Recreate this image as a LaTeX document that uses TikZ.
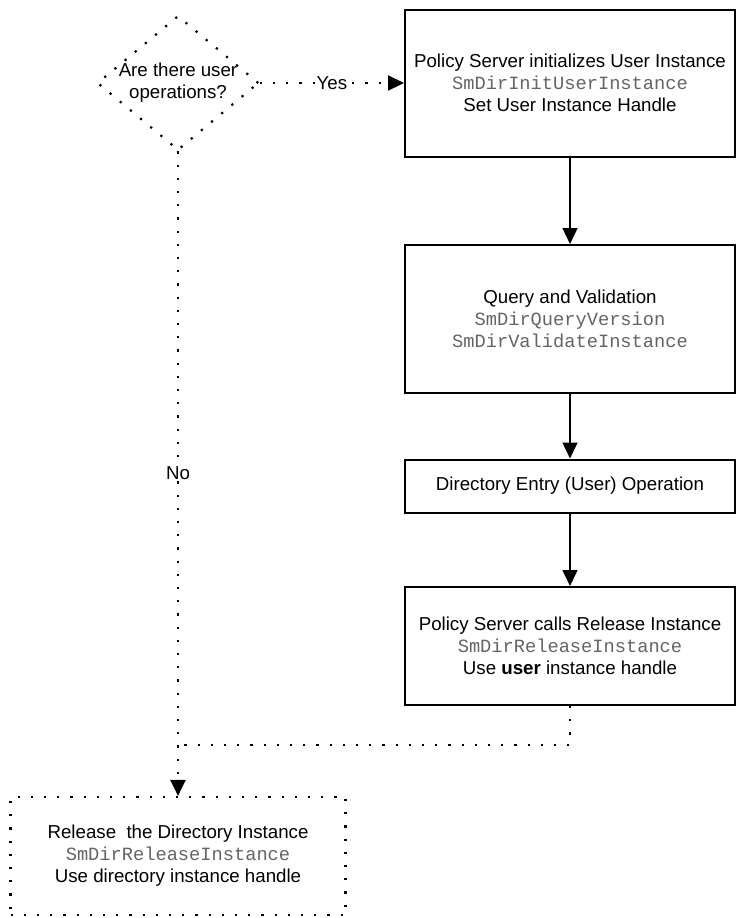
\documentclass[tikz,border=0pt]{standalone}
\usepackage{fontspec}
\setmainfont{Liberation Sans}
\setmonofont{Liberation Mono}
\usepackage[svgnames]{xcolor}
\usetikzlibrary{arrows.meta,shapes.geometric}

\definecolor{apigray}{RGB}{100,100,100}
\newcommand{\apicall}[1]{{\ttfamily\color{apigray}#1}}

\begin{document}
\begin{tikzpicture}[x=1pt, y=-1pt, font=\fontsize{18.7}{22}\selectfont,
	stepbox/.style={draw, line width=2pt, minimum width=330pt, align=center, inner sep=0pt},
	dots/.style={line width=2.2pt, dash pattern=on 2.2pt off 11pt},
	tip/.style={-{Triangle[length=16pt,width=15pt]}},
	flow/.style={line width=1.5pt, tip}]
	\useasboundingbox (0,0) rectangle (736,918);
	\node[diamond, draw, dots, aspect=1.2, inner sep=-1pt, align=center] (ask) at (178,83) {Are there user\\operations?};
	\node[stepbox, minimum height=147pt] (init) at (570,83) {Policy Server initializes User Instance\\\apicall{SmDirInitUserInstance}\\Set User Instance Handle};
	\node[stepbox, minimum height=148pt] (query) at (570,319) {Query and Validation\\\apicall{SmDirQueryVersion}\\\apicall{SmDirValidateInstance}};
	\node[stepbox, minimum height=53pt] (entry) at (570,486) {Directory Entry (User) Operation};
	\node[stepbox, minimum height=118pt] (userrel) at (570,646) {Policy Server calls Release Instance\\\apicall{SmDirReleaseInstance}\\Use \textbf{user} instance handle};
	\node[draw, dots, minimum width=335pt, minimum height=118pt, align=center] (dirrel) at (178,856) {Release\ \ the Directory Instance\\\apicall{SmDirReleaseInstance}\\Use directory instance handle};
	\coordinate (merge) at (178,745);
	% yes branch
	\draw[dots, tip] (ask.east) -- node[fill=white, inner sep=1pt] {Yes} (init.west);
	\draw[flow] (init) -- (query);
	\draw[flow] (query) -- (entry);
	\draw[flow] (entry) -- (userrel);
	\draw[dots] (userrel.south) |- (merge);
	% no branch
	\draw[dots, tip] (ask.south) -- node[fill=white, inner sep=1pt] {No} (dirrel.north);
\end{tikzpicture}
\end{document}
